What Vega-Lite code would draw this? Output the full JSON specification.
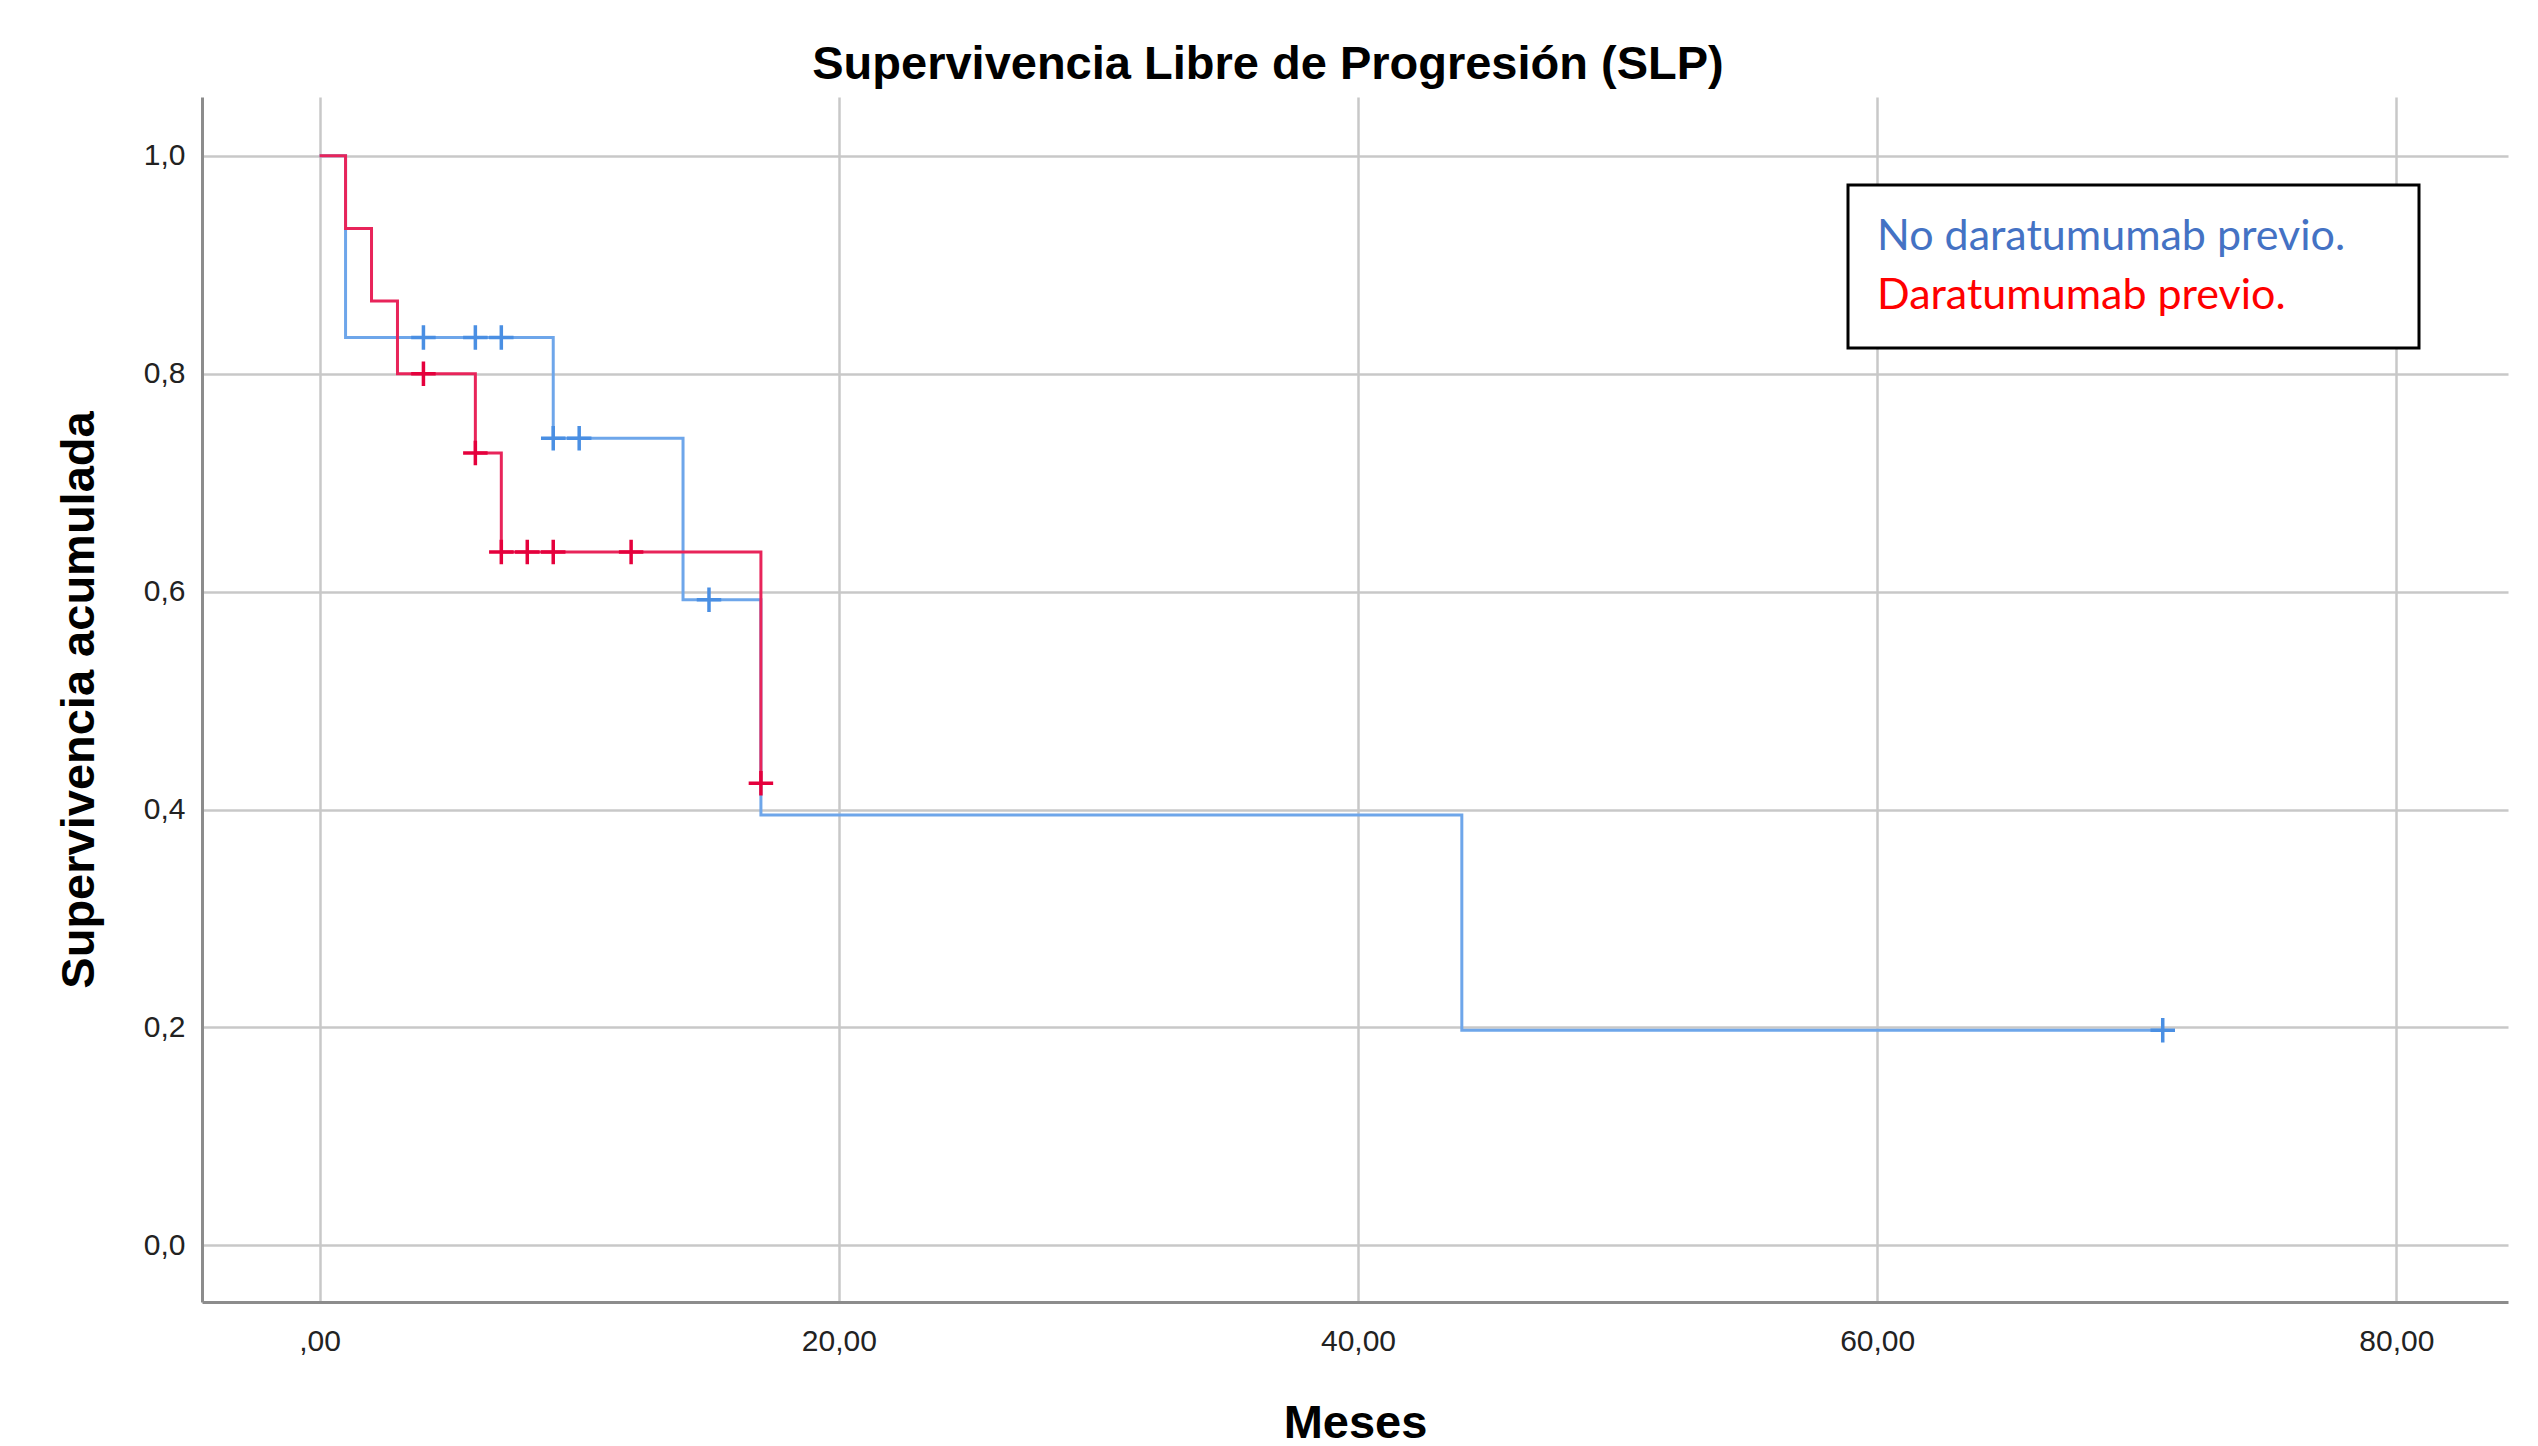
{
  "$schema": "https://vega.github.io/schema/vega-lite/v6.json",
  "width": 2306,
  "height": 1205,
  "autosize": "none",
  "padding": {"left": 202, "top": 97, "right": 30, "bottom": 144},
  "background": "white",
  "title": {
    "text": "Supervivencia Libre de Progresión (SLP)",
    "font": "Liberation Sans",
    "fontSize": 47,
    "fontWeight": "bold",
    "color": "#000000",
    "anchor": "middle",
    "dx": -87,
    "offset": 8
  },
  "config": {"view": {"stroke": null}},
  "data": {
    "values": [
      {"grupo": "No daratumumab previo.", "tipo": "curva", "meses": 0, "supervivencia": 1.0},
      {"grupo": "No daratumumab previo.", "tipo": "curva", "meses": 1, "supervivencia": 0.8333},
      {"grupo": "No daratumumab previo.", "tipo": "curva", "meses": 9, "supervivencia": 0.7407},
      {"grupo": "No daratumumab previo.", "tipo": "curva", "meses": 14, "supervivencia": 0.5926},
      {"grupo": "No daratumumab previo.", "tipo": "curva", "meses": 17, "supervivencia": 0.3951},
      {"grupo": "No daratumumab previo.", "tipo": "curva", "meses": 44, "supervivencia": 0.1975},
      {"grupo": "No daratumumab previo.", "tipo": "curva", "meses": 71, "supervivencia": 0.1975},
      {"grupo": "No daratumumab previo.", "tipo": "censura", "meses": 4, "supervivencia": 0.8333},
      {"grupo": "No daratumumab previo.", "tipo": "censura", "meses": 6, "supervivencia": 0.8333},
      {"grupo": "No daratumumab previo.", "tipo": "censura", "meses": 7, "supervivencia": 0.8333},
      {"grupo": "No daratumumab previo.", "tipo": "censura", "meses": 9, "supervivencia": 0.7407},
      {"grupo": "No daratumumab previo.", "tipo": "censura", "meses": 10, "supervivencia": 0.7407},
      {"grupo": "No daratumumab previo.", "tipo": "censura", "meses": 15, "supervivencia": 0.5926},
      {"grupo": "No daratumumab previo.", "tipo": "censura", "meses": 71, "supervivencia": 0.1975},
      {"grupo": "Daratumumab previo.", "tipo": "curva", "meses": 0, "supervivencia": 1.0},
      {"grupo": "Daratumumab previo.", "tipo": "curva", "meses": 1, "supervivencia": 0.9333},
      {"grupo": "Daratumumab previo.", "tipo": "curva", "meses": 2, "supervivencia": 0.8667},
      {"grupo": "Daratumumab previo.", "tipo": "curva", "meses": 3, "supervivencia": 0.8},
      {"grupo": "Daratumumab previo.", "tipo": "curva", "meses": 6, "supervivencia": 0.7273},
      {"grupo": "Daratumumab previo.", "tipo": "curva", "meses": 7, "supervivencia": 0.6364},
      {"grupo": "Daratumumab previo.", "tipo": "curva", "meses": 17, "supervivencia": 0.4242},
      {"grupo": "Daratumumab previo.", "tipo": "censura", "meses": 4, "supervivencia": 0.8},
      {"grupo": "Daratumumab previo.", "tipo": "censura", "meses": 6, "supervivencia": 0.7273},
      {"grupo": "Daratumumab previo.", "tipo": "censura", "meses": 7, "supervivencia": 0.6364},
      {"grupo": "Daratumumab previo.", "tipo": "censura", "meses": 8, "supervivencia": 0.6364},
      {"grupo": "Daratumumab previo.", "tipo": "censura", "meses": 9, "supervivencia": 0.6364},
      {"grupo": "Daratumumab previo.", "tipo": "censura", "meses": 12, "supervivencia": 0.6364},
      {"grupo": "Daratumumab previo.", "tipo": "censura", "meses": 17, "supervivencia": 0.4242}
    ]
  },
  "encoding": {
    "x": {
      "field": "meses",
      "type": "quantitative",
      "scale": {"domain": [-4.53, 84.3], "nice": false, "zero": false},
      "axis": {
        "title": "Meses",
        "values": [0, 20, 40, 60, 80],
        "labelExpr": "datum.value == 0 ? ',00' : replace(format(datum.value, '.2f'), '.', ',')",
        "grid": true,
        "gridColor": "#c8c8c8",
        "gridWidth": 2.5,
        "domainColor": "#8c8c8c",
        "domainWidth": 3,
        "ticks": false,
        "labelFont": "Liberation Sans",
        "labelFontSize": 30,
        "labelColor": "#222222",
        "labelPadding": 24,
        "titleFont": "Liberation Sans",
        "titleFontSize": 47,
        "titleFontWeight": "bold",
        "titleColor": "#000000",
        "titlePadding": 44
      }
    },
    "y": {
      "field": "supervivencia",
      "type": "quantitative",
      "scale": {"domain": [-0.052, 1.054], "nice": false, "zero": false},
      "axis": {
        "title": "Supervivencia acumulada",
        "values": [0, 0.2, 0.4, 0.6, 0.8, 1.0],
        "labelExpr": "replace(format(datum.value, '.1f'), '.', ',')",
        "grid": true,
        "gridColor": "#c8c8c8",
        "gridWidth": 2.5,
        "domainColor": "#8c8c8c",
        "domainWidth": 3,
        "ticks": false,
        "labelFont": "Liberation Sans",
        "labelFontSize": 30,
        "labelColor": "#222222",
        "labelPadding": 17,
        "titleFont": "Liberation Sans",
        "titleFontSize": 47,
        "titleFontWeight": "bold",
        "titleColor": "#000000",
        "titlePadding": 40
      }
    },
    "color": {
      "field": "grupo",
      "type": "nominal",
      "scale": {
        "domain": ["No daratumumab previo.", "Daratumumab previo."],
        "range": ["#6EA6EA", "#E8245A"]
      },
      "legend": {
        "title": null,
        "orient": "none",
        "legendX": 1646,
        "legendY": 88,
        "strokeColor": "#000000",
        "fillColor": "#ffffff",
        "padding": 30,
        "labelFont": "Lato",
        "labelFontSize": 43,
        "labelOffset": -533,
        "labelLimit": 2000,
        "symbolSize": 0,
        "symbolOpacity": 0,
        "symbolStrokeWidth": 0,
        "symbolOffset": 489,
        "rowPadding": 15,
        "encode": {
          "legend": {"update": {"strokeWidth": {"value": 3}}},
          "labels": {"update": {"fill": {"signal": "datum.value === 'Daratumumab previo.' ? '#FF0000' : '#4472C4'"}}}
        }
      }
    }
  },
  "layer": [
    {
      "transform": [{"filter": "datum.tipo === 'curva' && datum.grupo === 'No daratumumab previo.'"}],
      "mark": {"type": "line", "interpolate": "step-after", "strokeWidth": 3}
    },
    {
      "transform": [{"filter": "datum.tipo === 'curva' && datum.grupo === 'Daratumumab previo.'"}],
      "mark": {"type": "line", "interpolate": "step-after", "strokeWidth": 3}
    },
    {
      "transform": [{"filter": "datum.tipo === 'censura'"}],
      "mark": {"type": "point", "shape": "M-1,0L1,0M0,-1L0,1", "size": 600, "strokeWidth": 3.5, "filled": false, "opacity": 1},
      "encoding": {
        "stroke": {
          "field": "grupo",
          "type": "nominal",
          "scale": {
            "domain": ["No daratumumab previo.", "Daratumumab previo."],
            "range": ["#4A8FE3", "#E5003C"]
          },
          "legend": null
        }
      }
    }
  ]
}
